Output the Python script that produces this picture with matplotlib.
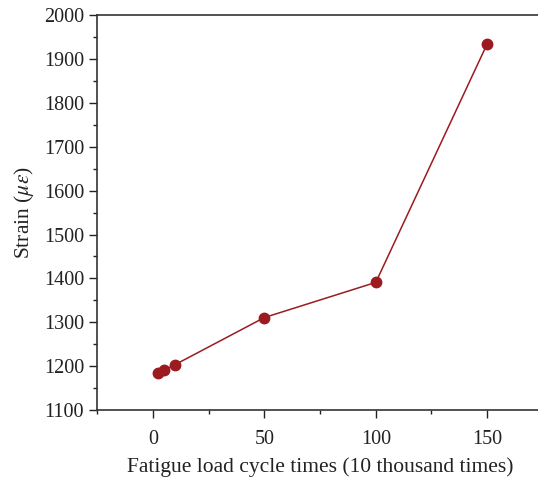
import matplotlib
matplotlib.use("Agg")
import matplotlib.pyplot as plt
from matplotlib.ticker import MultipleLocator

# fatigue cycles (10 thousand times) and measured strain
cycles = [2, 5, 10, 50, 100, 150]
strain = [1184, 1191, 1204, 1311, 1391, 1934]

plt.rcParams['font.family'] = ['Liberation Serif', 'DejaVu Serif']
plt.rcParams['mathtext.fontset'] = 'stix'
RED = '#9b1b20'

fig = plt.figure(figsize=(5.38, 4.82), dpi=100)
ax = fig.add_axes([0.181, 0.149, 0.828, 0.820])

ax.plot(cycles, strain, color=RED, linewidth=1.1, marker='o', markersize=7.5,
        markerfacecolor=RED, markeredgecolor=RED)

ax.set_xlim(-25, 175)
ax.set_ylim(1100, 2000)
ax.xaxis.set_major_locator(MultipleLocator(50))
ax.xaxis.set_minor_locator(MultipleLocator(25))
ax.yaxis.set_major_locator(MultipleLocator(100))
ax.yaxis.set_minor_locator(MultipleLocator(50))
ax.tick_params(which='major', direction='out', length=6, width=1, labelsize=14.5, colors='#222222')
ax.tick_params(axis='x', which='major', pad=8)
ax.tick_params(which='minor', direction='out', length=3, width=1, colors='#222222')

ax.spines['right'].set_visible(False)
for s in ['left', 'bottom', 'top']:
    ax.spines[s].set_color('#333333')
    ax.spines[s].set_linewidth(1.2)

ax.set_xlabel("Fatigue load cycle times (10 thousand times)", fontsize=15.5, labelpad=6, color='#222222')
ax.set_ylabel(r"Strain ($\mu\varepsilon$)", fontsize=15.5, labelpad=6, color='#222222')

fig.savefig("out.png", dpi=100)
